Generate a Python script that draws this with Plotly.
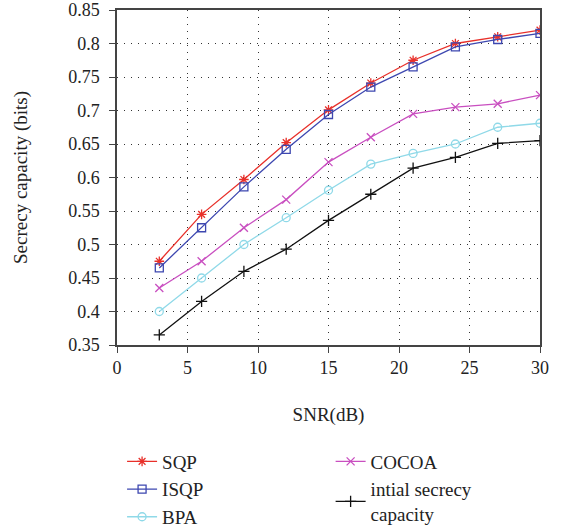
import plotly.graph_objects as go

snr = [3, 6, 9, 12, 15, 18, 21, 24, 27, 30]
sqp = [0.475, 0.545, 0.597, 0.652, 0.701, 0.741, 0.775, 0.800, 0.810, 0.820]
isqp = [0.465, 0.525, 0.586, 0.642, 0.694, 0.735, 0.765, 0.795, 0.806, 0.815]
bpa = [0.400, 0.450, 0.500, 0.540, 0.581, 0.620, 0.636, 0.650, 0.675, 0.681]
cocoa = [0.435, 0.475, 0.525, 0.567, 0.623, 0.660, 0.695, 0.705, 0.710, 0.723]
initial = [0.365, 0.415, 0.460, 0.493, 0.536, 0.575, 0.614, 0.630, 0.651, 0.655]

FONT = "Liberation Serif"

series = [
    ("SQP", sqp, "#e8302a", "asterisk-open", "legend"),
    ("ISQP", isqp, "#3d47b0", "square-open", "legend"),
    ("BPA", bpa, "#8fd9e8", "circle-open", "legend"),
    ("COCOA", cocoa, "#c94fc0", "x-thin-open", "legend2"),
    ("intial secrecy<br>capacity", initial, "#111111", "cross-thin-open", "legend2"),
]

fig = go.Figure()
for name, ys, color, sym, lg in series:
    fig.add_trace(go.Scatter(
        x=snr, y=ys, name=name, mode="lines+markers",
        line=dict(color=color, width=1.3),
        marker=dict(symbol=sym, size=8, color=color, line=dict(color=color, width=1.3)),
        legend=lg,
    ))

axis_common = dict(
    showline=True, linecolor="#444", linewidth=1.5, mirror=True,
    showgrid=True, gridcolor="#333", griddash="1px,6px", gridwidth=1,
    ticks="outside", ticklen=6, tickcolor="#444", zeroline=False,
    tickfont=dict(family=FONT, size=18, color="#222"),
)

fig.update_layout(
    width=567, height=530,
    margin=dict(l=117, r=27, t=10, b=185, autoexpand=False),
    paper_bgcolor="white", plot_bgcolor="white",
    font=dict(family=FONT, size=18, color="#222"),
    xaxis=dict(range=[0, 30], dtick=5, title=dict(text="SNR(dB)", standoff=30,
               font=dict(family=FONT, size=19)), **axis_common),
    yaxis=dict(range=[0.35, 0.85], dtick=0.05, tickformat=".2~f",
               ticklabelstandoff=6,
               title=dict(text="Secrecy capacity (bits)", standoff=36,
                          font=dict(family=FONT, size=19)), **axis_common),
    legend=dict(x=0.012, y=-0.291, xanchor="left", yanchor="top",
                font=dict(family=FONT, size=19), tracegroupgap=0,
                bgcolor="rgba(0,0,0,0)"),
    legend2=dict(x=0.505, y=-0.291, xanchor="left", yanchor="top",
                 font=dict(family=FONT, size=19), tracegroupgap=0,
                 bgcolor="rgba(0,0,0,0)"),
)

fig.write_html("out.html")
